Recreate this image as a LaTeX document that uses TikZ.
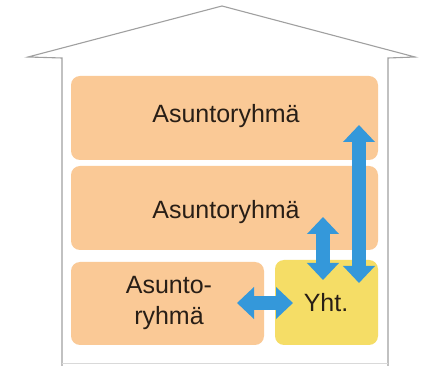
\documentclass[tikz,border=0pt]{standalone}
\usepackage{fontspec}
\setmainfont{Liberation Sans}
\usetikzlibrary{arrows.meta}
\definecolor{boxorange}{RGB}{250,201,150}
\definecolor{boxyellow}{RGB}{245,221,102}
\definecolor{arrowblue}{RGB}{52,152,218}
\definecolor{txt}{RGB}{40,30,22}
\definecolor{wall}{RGB}{160,160,160}
\tikzset{
  room/.style={fill=boxorange, draw=none, rounded corners=9pt},
  common/.style={fill=boxyellow, draw=none, rounded corners=9pt},
  label/.style={text=txt, font=\fontsize{25}{31}\selectfont, align=center, inner sep=0pt},
  flow/.style={draw=arrowblue, line width=14pt,
    {Triangle[length=17pt,width=31pt]}-{Triangle[length=17pt,width=31pt]}},
  house/.style={draw=wall, line width=1.1pt, line join=miter}
}
\begin{document}
\begin{tikzpicture}[x=1pt,y=-1pt]
\useasboundingbox (0,0) rectangle (424,366);
\fill[white] (0,0) rectangle (424,366);
% house
\draw[house] (62,366) -- (62,58) -- (28,57) -- (222,6) -- (415,57) -- (388,58) -- (388,366);
\draw[draw=wall!40, line width=0.6pt] (62,363) -- (388,363);
% rooms
\fill[room] (71,76) rectangle (378,160);
\fill[room] (71,166) rectangle (378,250);
\fill[room] (71,262) rectangle (264,345);
\fill[common] (275,260) rectangle (378,345);
% labels
\node[label] (top) at (226,116) {Asuntoryhmä};
\node[label] (mid) at (226,212) {Asuntoryhmä};
\node[label] (low) at (169,303) {Asunto-\\ryhmä};
\node[label] (yht) at (326,303) {Yht.};
% arrow endpoints
\coordinate (a1) at (359,125);
\coordinate (a2) at (359,283);
\coordinate (b1) at (323,217);
\coordinate (b2) at (323,280);
\coordinate (c1) at (237,303);
\coordinate (c2) at (293,303);
\draw[flow] (a1) -- (a2);
\draw[flow] (b1) -- (b2);
\draw[flow] (c1) -- (c2);
\end{tikzpicture}
\end{document}
